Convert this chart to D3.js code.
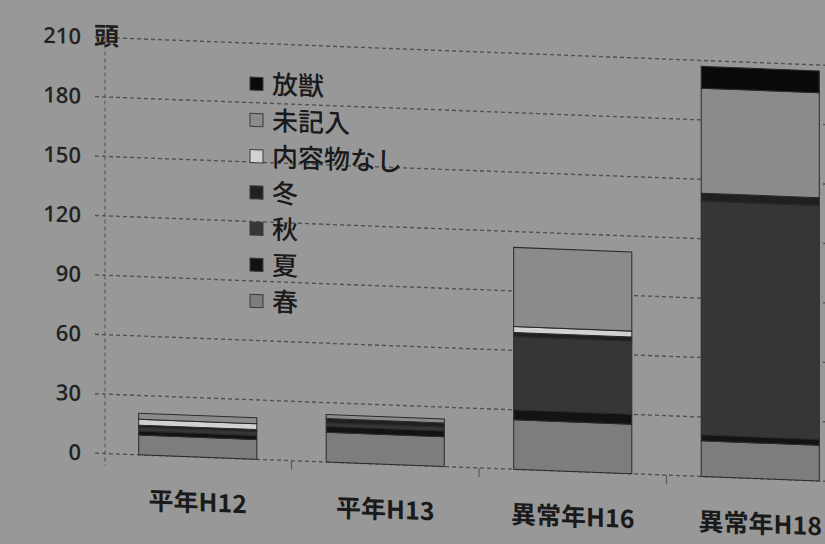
<!DOCTYPE html>
<html>
<head>
<meta charset="utf-8">
<script src="https://cdn.jsdelivr.net/npm/d3@7"></script>
<style>
  html, body { margin: 0; padding: 0; background: #989898; }
  svg { display: block; }
</style>
</head>
<body>
<svg id="chart" width="825" height="544"></svg>
<script>
// Bear captures by season, stacked per year (頭)
const categories = ["平年H12", "平年H13", "異常年H16", "異常年H18"];
const seriesNames = ["春", "夏", "秋", "冬", "内容物なし", "未記入", "放獣"];
const spring     = [10, 15, 25, 18];
const summer     = [2, 3, 5, 3];
const autumn     = [2, 2, 37, 118];
const winter     = [1, 2, 2, 4];
const noContents = [3, 0, 3, 0];
const unrecorded = [3, 2, 40, 53];
const released   = [0, 0, 0, 11];
const yTicks = [0, 30, 60, 90, 120, 150, 180, 210];

const seriesValues = [spring, summer, autumn, winter, noContents, unrecorded, released];
const colors = ["#7d7d7d", "#131313", "#363636", "#202020", "#d2d2d2", "#8b8b8b", "#0a0a0a"];

const rows = categories.map((c, i) => {
  const r = { cat: c };
  seriesNames.forEach((s, j) => { r[s] = seriesValues[j][i]; });
  return r;
});
const stacked = d3.stack().keys(seriesNames)(rows);

const svg = d3.select("#chart");
svg.append("rect").attr("width", 825).attr("height", 544).attr("fill", "#989898");

// the printed page is slightly tilted
const g = svg.append("g").attr("transform", "skewY(2.2)");

const y = d3.scaleLinear().domain([0, 210]).range([449.5, 33.5]);
const x = d3.scaleBand().domain(categories).range([104, 854])
  .paddingInner(0.37).paddingOuter(0.185);

// gridlines
g.append("g").selectAll("line").data(yTicks).join("line")
  .attr("x1", 95).attr("x2", 900)
  .attr("y1", d => y(d)).attr("y2", d => y(d))
  .attr("stroke", "#525252").attr("stroke-width", 1.4)
  .attr("stroke-dasharray", "4,3");

// vertical axis (dashed)
g.append("line")
  .attr("x1", 105).attr("x2", 105)
  .attr("y1", y(210)).attr("y2", y(0) + 12)
  .attr("stroke", "#5e5e5e").attr("stroke-width", 1.2)
  .attr("stroke-dasharray", "4,3");

// category separators below the baseline
g.append("g").selectAll("line").data(categories.slice(1)).join("line")
  .attr("x1", d => x(d) - x.step() * x.paddingInner() / 2)
  .attr("x2", d => x(d) - x.step() * x.paddingInner() / 2)
  .attr("y1", y(0)).attr("y2", y(0) + 9)
  .attr("stroke", "#5a5a5a").attr("stroke-width", 1.2);

// y tick labels
g.append("g").selectAll("text").data(yTicks).join("text")
  .attr("x", 81).attr("y", d => y(d))
  .attr("dy", "0.35em")
  .attr("text-anchor", "end")
  .attr("font-family", "'Open Sans', 'Noto Sans', sans-serif")
  .attr("font-size", 22).attr("font-weight", 600)
  .attr("fill", "#222")
  .text(d => d);

g.append("text")
  .attr("x", 94).attr("y", y(210) - 1)
  .attr("dy", "0.35em")
  .attr("font-family", "'Noto Sans CJK JP', sans-serif")
  .attr("font-size", 25).attr("font-weight", 700)
  .attr("fill", "#1e1e1e")
  .text("頭");

// stacked bars
g.append("g").selectAll("g").data(stacked).join("g")
  .attr("fill", (d, i) => colors[i])
  .selectAll("rect").data(d => d.filter(p => p[1] - p[0] > 0)).join("rect")
  .attr("x", d => x(d.data.cat))
  .attr("width", x.bandwidth())
  .attr("y", d => y(d[1]))
  .attr("height", d => y(d[0]) - y(d[1]))
  .attr("stroke", "#2a2a2a").attr("stroke-width", 1);

// category labels
g.append("g").selectAll("text").data(categories).join("text")
  .attr("x", d => x(d) + x.bandwidth() / 2)
  .attr("y", 495)
  .attr("dy", "0.35em")
  .attr("text-anchor", "middle")
  .attr("font-family", "'Noto Sans CJK JP', sans-serif")
  .attr("font-size", 25).attr("font-weight", 700)
  .attr("fill", "#1a1a1a")
  .text(d => d);

// legend (top entry is the last series)
const legendItems = seriesNames.map((s, i) => ({ name: s, color: colors[i] })).reverse();
const lg = g.append("g").attr("transform", "translate(250,74)");
const item = lg.selectAll("g").data(legendItems).join("g")
  .attr("transform", (d, i) => `translate(0,${i * 36.2})`);
item.append("rect")
  .attr("x", 0).attr("y", -6.5).attr("width", 13).attr("height", 13)
  .attr("fill", d => d.color)
  .attr("stroke", "#3a3a3a").attr("stroke-width", 1);
item.append("text")
  .attr("x", 22).attr("y", 0).attr("dy", "0.36em")
  .attr("font-family", "'Noto Sans CJK JP', sans-serif")
  .attr("font-size", 26).attr("font-weight", 500)
  .attr("fill", "#1a1a1a")
  .text(d => d.name);
</script>
</body>
</html>
